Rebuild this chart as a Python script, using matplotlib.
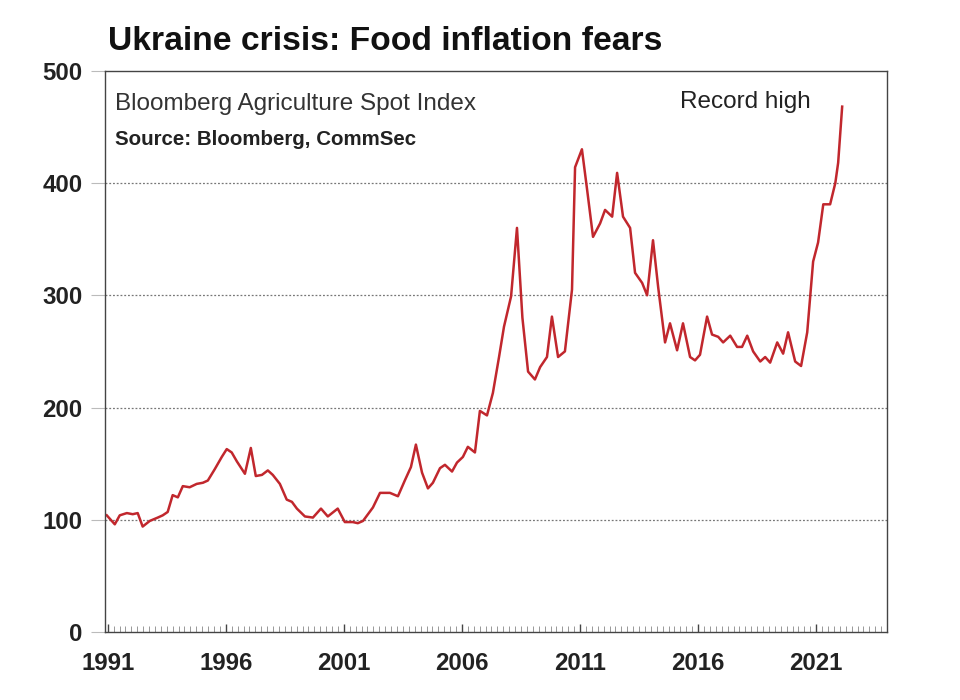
import matplotlib
matplotlib.use("Agg")
import matplotlib.pyplot as plt
from matplotlib.ticker import MultipleLocator

plt.rcParams['font.family'] = ['Liberation Sans', 'DejaVu Sans']

title = "Ukraine crisis: Food inflation fears"
subtitle = "Bloomberg Agriculture Spot Index"
source = "Source: Bloomberg, CommSec"
annotation = "Record high"

years = [
    1990.96, 1991.30, 1991.51, 1991.81, 1992.06, 1992.27, 1992.48, 1992.78,
    1993.12, 1993.33, 1993.54, 1993.75, 1993.97, 1994.18, 1994.47, 1994.77,
    1995.03, 1995.24, 1995.53, 1995.83, 1996.04, 1996.25, 1996.47, 1996.81,
    1997.06, 1997.27, 1997.53, 1997.78, 1997.99, 1998.29, 1998.58, 1998.80,
    1999.01, 1999.35, 1999.69, 2000.03, 2000.32, 2000.74, 2001.04, 2001.38,
    2001.59, 2001.81, 2002.23, 2002.53, 2002.95, 2003.29, 2003.58, 2003.84,
    2004.05, 2004.31, 2004.56, 2004.77, 2005.07, 2005.28, 2005.58, 2005.79,
    2006.04, 2006.25, 2006.55, 2006.76, 2007.06, 2007.31, 2007.57, 2007.78,
    2008.08, 2008.33, 2008.56, 2008.80, 2009.09, 2009.31, 2009.60, 2009.81,
    2010.07, 2010.36, 2010.66, 2010.79, 2011.08, 2011.30, 2011.55, 2011.85,
    2012.06, 2012.36, 2012.57, 2012.82, 2013.12, 2013.33, 2013.63, 2013.84,
    2014.09, 2014.31, 2014.60, 2014.81, 2015.11, 2015.36, 2015.66, 2015.87,
    2016.08, 2016.38, 2016.59, 2016.85, 2017.06, 2017.36, 2017.65, 2017.86,
    2018.08, 2018.33, 2018.63, 2018.84, 2019.05, 2019.35, 2019.60, 2019.81,
    2020.11, 2020.36, 2020.62, 2020.87, 2021.08, 2021.30, 2021.59, 2021.81,
    2021.93, 2022.10,
]

index_values = [
    104, 96, 104, 106, 105, 106, 94, 99,
    102, 104, 107, 122, 120, 130, 129, 132,
    133, 135, 145, 156, 163, 160, 152, 141,
    164, 139, 140, 144, 140, 132, 118, 116,
    110, 103, 102, 110, 103, 110, 98, 98,
    97, 99, 111, 124, 124, 121, 135, 147,
    167, 142, 128, 133, 146, 149, 143, 151,
    156, 165, 160, 197, 193, 213, 245, 272,
    299, 360, 280, 232, 225, 236, 245, 281,
    245, 250, 305, 414, 430, 394, 352, 364,
    376, 370, 409, 370, 360, 320, 311, 300,
    349, 307, 258, 275, 251, 275, 245, 242,
    247, 281, 265, 263, 258, 264, 254, 254,
    264, 250, 241, 245, 240, 258, 248, 267,
    241, 237, 267, 330, 347, 381, 381, 400,
    418, 468,
]

year_ticks = [1991, 1996, 2001, 2006, 2011, 2016, 2021]
value_ticks = [0, 100, 200, 300, 400, 500]

fig = plt.figure(figsize=(9.6, 7.0), dpi=100)
ax = fig.add_axes([0.109, 0.097, 0.815, 0.802])

ax.plot(years, index_values, color='#C1272D', linewidth=1.8)

ax.set_xlim(1990.87, 2024.0)
ax.set_ylim(0, 500)
ax.set_xticks(year_ticks)
ax.set_xticklabels([str(y) for y in year_ticks], fontsize=17.3, fontweight='bold', color='#222222')
ax.xaxis.set_minor_locator(MultipleLocator(0.25))
ax.tick_params(axis='x', which='major', direction='in', length=6, width=1, color='#444444', pad=14)
ax.tick_params(axis='x', which='minor', direction='in', length=4, width=0.6, color='#888888')

ax.set_yticks(value_ticks)
ax.set_yticklabels([str(v) for v in value_ticks], fontsize=17.3, fontweight='bold', color='#222222')
ax.tick_params(axis='y', which='major', direction='out', length=10, width=0.8, color='#bbbbbb', pad=6)

for v in value_ticks[1:-1]:
    ax.axhline(v, color='#777777', linewidth=0.9, linestyle=(0, (1.5, 1.5)), zorder=0)

for side in ['left', 'right', 'top', 'bottom']:
    ax.spines[side].set_color('#444444')
    ax.spines[side].set_linewidth(1.0)

fig.text(0.112, 0.941, title, fontsize=24.2, fontweight='bold', color='#111111', va='center', ha='left')
ax.text(0.013, 0.941, subtitle, transform=ax.transAxes, fontsize=17.5, color='#333333', va='center', ha='left')
ax.text(0.013, 0.878, source, transform=ax.transAxes, fontsize=14.8, fontweight='bold', color='#222222', va='center', ha='left')
ax.text(0.735, 0.945, annotation, transform=ax.transAxes, fontsize=17.5, color='#222222', va='center', ha='left')

fig.savefig('out.png', dpi=100, facecolor='white')
